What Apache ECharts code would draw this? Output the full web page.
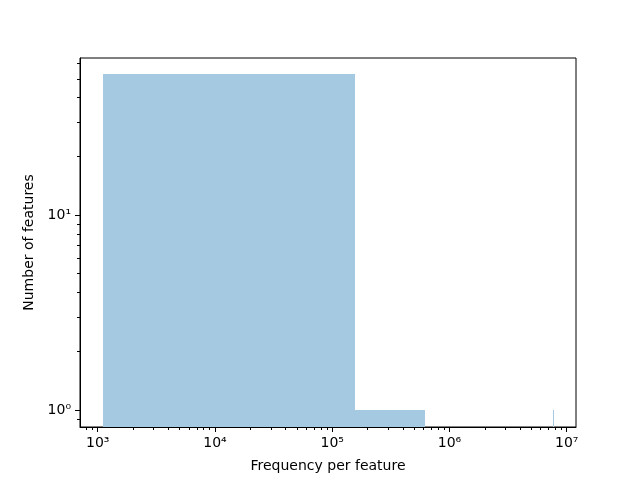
<!DOCTYPE html>
<html>
<head>
<meta charset="utf-8">
<script src="https://cdn.jsdelivr.net/npm/echarts@6/dist/echarts.min.js"></script>
<style>html,body{margin:0;padding:0;background:#fff}#c{width:640px;height:480px}</style>
</head>
<body>
<div id="c"></div>
<script>
// Histogram bins (linear bins, only non-empty shown)
var binStart = [1103, 156003, 310903, 465803, 7591103];
var binEnd   = [156003, 310903, 465803, 620703, 7746003];
var counts   = [53, 1, 1, 1, 1];

var xMajorTicks = [1e3, 1e4, 1e5, 1e6, 1e7];
var xMinorTicks = [];
var yMajorTicks = [1, 10];
var yMinorTicks = [0.9, 2, 3, 4, 5, 6, 7, 8, 9, 20, 30, 40, 50, 60];
[100, 1e3, 1e4, 1e5, 1e6].forEach(function (d) {
  for (var k = 2; k <= 9; k++) { var v = k * d; if (v > 706 && v < 1.2e7) xMinorTicks.push(v); }
});

var xMin = 706, xMax = 1.2e7, yMin = 0.818, yMax = 63.9;
var sup = {'0':'\u2070','1':'\u00b9','2':'\u00b2','3':'\u00b3','4':'\u2074','5':'\u2075','6':'\u2076','7':'\u2077','8':'\u2078','9':'\u2079'};
function fmt(v) {
  var e = Math.round(Math.log10(v));
  return '10' + String(e).split('').map(function (c) { return sup[c]; }).join('');
}
var font = 'DejaVu Sans';
var data = binStart.map(function (s, i) { return [s, binEnd[i], counts[i]]; });

var chart = echarts.init(document.getElementById('c'), null, {renderer: 'canvas'});
chart.setOption({
  animation: false,
  grid: {left: 80, right: 64, top: 58, bottom: 53, show: true, borderColor: '#000', borderWidth: 1, backgroundColor: 'transparent'},
  xAxis: [{
    type: 'log', logBase: 10, min: xMin, max: xMax,
    name: 'Frequency per feature', nameLocation: 'middle', nameGap: 32,
    nameTextStyle: {fontFamily: font, fontSize: 14, color: '#000'},
    axisLine: {show: true, onZero: false, lineStyle: {color: '#000', width: 1}},
    axisTick: {show: true, length: 5, customValues: xMajorTicks, lineStyle: {color: '#000'}},
    axisLabel: {show: true, margin: 9, customValues: xMajorTicks, formatter: fmt, fontFamily: font, fontSize: 14, color: '#000'},
    splitLine: {show: false}, minorTick: {show: false}
  }, {
    type: 'log', logBase: 10, min: xMin, max: xMax, position: 'bottom',
    axisLine: {show: false},
    axisTick: {show: true, length: 3, customValues: xMinorTicks, lineStyle: {color: '#000'}},
    axisLabel: {show: false}, splitLine: {show: false}
  }],
  yAxis: [{
    type: 'log', logBase: 10, min: yMin, max: yMax,
    name: 'Number of features', nameLocation: 'middle', nameGap: 43, nameRotate: 90,
    nameTextStyle: {fontFamily: font, fontSize: 14, color: '#000'},
    axisLine: {show: true, onZero: false, lineStyle: {color: '#000', width: 1}},
    axisTick: {show: true, length: 5, customValues: yMajorTicks, lineStyle: {color: '#000'}},
    axisLabel: {show: true, margin: 9, customValues: yMajorTicks, formatter: fmt, fontFamily: font, fontSize: 14, color: '#000'},
    splitLine: {show: false}, minorTick: {show: false}
  }, {
    type: 'log', logBase: 10, min: yMin, max: yMax, position: 'left',
    axisLine: {show: false},
    axisTick: {show: true, length: 3, customValues: yMinorTicks, lineStyle: {color: '#000'}},
    axisLabel: {show: false}, splitLine: {show: false}
  }],
  series: [{
    type: 'custom',
    xAxisIndex: 0, yAxisIndex: 0,
    clip: true,
    encode: {x: [0, 1], y: 2},
    data: data,
    renderItem: function (params, api) {
      var p0 = api.coord([api.value(0), api.value(2)]);
      var p1 = api.coord([api.value(1), yMin]);
      var x0 = Math.round(p0[0]), x1 = Math.round(p1[0]);
      var w = Math.max(x1 - x0, 1);
      return {
        type: 'rect',
        shape: {x: x0, y: Math.round(p0[1]), width: w, height: Math.round(p1[1]) - Math.round(p0[1])},
        style: {fill: '#a5c9e1'}
      };
    }
  }]
});
</script>
</body>
</html>
